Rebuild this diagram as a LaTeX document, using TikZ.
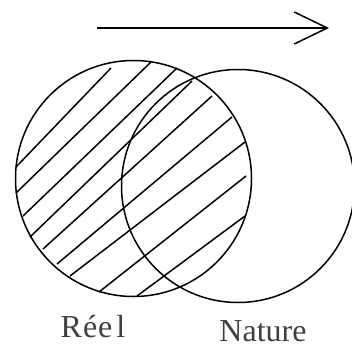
\documentclass[tikz,border=0pt]{standalone}
\usepackage{fontspec}
\setmainfont{Liberation Serif}
\usetikzlibrary{arrows.meta}
\definecolor{labelgray}{HTML}{404040}

\begin{document}
\begin{tikzpicture}[x=1pt, y=-1pt, line width=1.5pt,
    set/.style={circle, draw, inner sep=0pt},
    setlabel/.style={anchor=base, inner sep=0pt, text=labelgray, font=\fontsize{32}{32}\selectfont}]
                % Frame, sets and labels:
                \useasboundingbox (0,0) rectangle (352,347);
                \node[set, minimum size=236pt](Reel) at (133.5,178.5){};
                \node[set, minimum size=233pt](Nature) at (238,186){};
                \node[setlabel](LReel) at (93,337){R\kern1pt é\kern1pt e\kern4pt l};
                \node[setlabel](LNature) at (263,341){Nature};
                % Arrow on top:
                \coordinate (A1) at (97,28);
                \coordinate (A2) at (329,28);
                \draw[-{Straight Barb[length=33pt, width=32pt, line width=1.5pt]}] (A1) -- (A2);
                % Hatching of the first set:
                \foreach \xa/\ya/\xb/\yb in {16/167/111/68, 16/193/151/62, 23/216/177/68,
                    30/237/192/81, 43/249/212/96, 57/264/232/117, 70/276/245/142,
                    99/292/246/176, 137/296/245/216}
                    \draw (\xa,\ya) -- (\xb,\yb);
            \end{tikzpicture}
\end{document}
